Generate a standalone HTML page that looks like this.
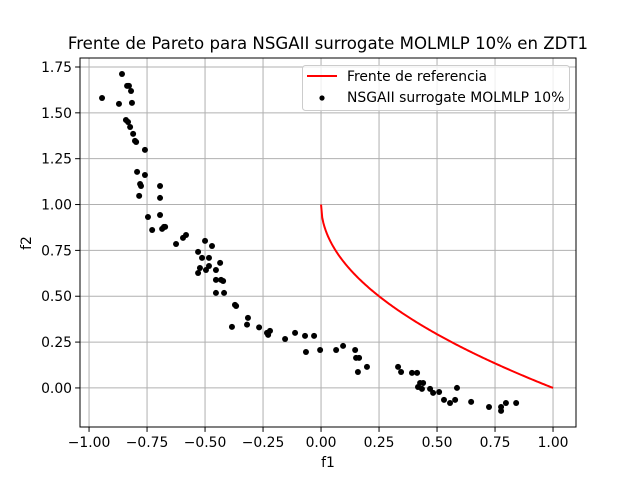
<!DOCTYPE html>
<html><head><meta charset="utf-8"><style>
body{margin:0;background:#fff;font-family:"DejaVu Sans","Liberation Sans",sans-serif;}
svg text{font-family:"DejaVu Sans","Liberation Sans",sans-serif;}
</style></head><body>
<svg id="chart" width="640" height="480" xmlns="http://www.w3.org/2000/svg"></svg>
<script>
const xTicks=[-1.00,-0.75,-0.50,-0.25,0.00,0.25,0.50,0.75,1.00];
const xTickLabels=["−1.00","−0.75","−0.50","−0.25","0.00","0.25","0.50","0.75","1.00"];
const yTicks=[0.00,0.25,0.50,0.75,1.00,1.25,1.50,1.75];
const yTickLabels=["0.00","0.25","0.50","0.75","1.00","1.25","1.50","1.75"];
const f1Values=[-0.858,-0.828,-0.836,-0.819,-0.944,-0.871,-0.815,-0.841,-0.832,-0.823,-0.810,-0.802,-0.797,-0.759,-0.793,-0.759,-0.780,-0.776,-0.694,-0.784,-0.694,-0.746,-0.694,-0.672,-0.677,-0.728,-0.685,-0.582,-0.595,-0.625,-0.500,-0.470,-0.530,-0.513,-0.483,-0.522,-0.483,-0.530,-0.453,-0.496,-0.435,-0.422,-0.431,-0.453,-0.453,-0.418,-0.384,-0.366,-0.371,-0.315,-0.319,-0.267,-0.233,-0.220,-0.228,-0.155,-0.112,-0.069,-0.030,-0.065,-0.004,0.065,0.095,0.147,0.151,0.164,0.198,0.159,0.332,0.345,0.392,0.414,0.427,0.440,0.418,0.435,0.470,0.483,0.509,0.586,0.530,0.556,0.578,0.647,0.724,0.776,0.776,0.797,0.841];
const f2Values=[1.712,1.647,1.647,1.619,1.581,1.549,1.554,1.461,1.450,1.423,1.385,1.347,1.341,1.298,1.178,1.161,1.112,1.101,1.101,1.047,1.036,0.932,0.943,0.878,0.878,0.861,0.867,0.834,0.818,0.785,0.802,0.774,0.742,0.709,0.709,0.654,0.665,0.627,0.643,0.643,0.682,0.583,0.589,0.589,0.518,0.518,0.333,0.447,0.453,0.382,0.345,0.330,0.300,0.311,0.289,0.267,0.300,0.284,0.284,0.196,0.207,0.207,0.229,0.207,0.164,0.164,0.115,0.087,0.115,0.087,0.082,0.082,0.027,0.027,0.005,-0.005,-0.005,-0.027,-0.022,0.000,-0.065,-0.082,-0.065,-0.076,-0.104,-0.104,-0.125,-0.082,-0.082];
const refF1=[];for(let i=0;i<=200;i++)refF1.push(i/200);

const L=80,R=576,T=58,B=427;
const xMin=-1.039,xMax=1.099,yMin=-0.213,yMax=1.799;
const sx=v=>L+(v-xMin)/(xMax-xMin)*(R-L);
const sy=v=>B-(v-yMin)/(yMax-yMin)*(B-T);
const svg=document.getElementById('chart');
const NS='http://www.w3.org/2000/svg';
function mk(tag,attrs,parent){const e=document.createElementNS(NS,tag);for(const k in attrs)e.setAttribute(k,attrs[k]);(parent||svg).appendChild(e);return e;}

xTicks.forEach((v,i)=>{
  const g=mk('line',{x1:sx(v),x2:sx(v),y1:T,y2:B,stroke:'#b0b0b0','stroke-width':1});
  
  
  mk('line',{x1:sx(v),x2:sx(v),y1:B,y2:B+4.9,stroke:'#000','stroke-width':1});
  const t=mk('text',{x:sx(v),y:B+20,'text-anchor':'middle','font-size':13.9,fill:'#000'});
  t.textContent=xTickLabels[i];
  
  
});
yTicks.forEach((v,i)=>{
  const g=mk('line',{x1:L,x2:R,y1:sy(v),y2:sy(v),stroke:'#b0b0b0','stroke-width':1});
  
  
  mk('line',{x1:L-4.9,x2:L,y1:sy(v),y2:sy(v),stroke:'#000','stroke-width':1});
  const t=mk('text',{x:L-8,y:sy(v)+5,'text-anchor':'end','font-size':13.9,fill:'#000'});
  t.textContent=yTickLabels[i];
  
  
});

const pts=refF1.map(f=>sx(f)+','+sy(1-Math.sqrt(f))).join(' ');
const ref=mk('polyline',{points:pts,fill:'none',stroke:'#ff0000','stroke-width':2});



f1Values.forEach((f,i)=>{
  const c=mk('circle',{cx:sx(f),cy:sy(f2Values[i]),r:3,fill:'#000'});
  
  
});

const frame=mk('rect',{x:L,y:T,width:R-L,height:B-T,fill:'none',stroke:'#000','stroke-width':1});



const title=mk('text',{x:328,y:49,'text-anchor':'middle','font-size':16.6,fill:'#000'});
title.textContent='Frente de Pareto para NSGAII surrogate MOLMLP 10% en ZDT1';


const xl=mk('text',{x:328,y:467,'text-anchor':'middle','font-size':13.9,fill:'#000'});
xl.textContent='f1';


const yl=mk('text',{x:31,y:243,'text-anchor':'middle','font-size':13.9,fill:'#000',transform:'rotate(-90 31 243)'});
yl.textContent='f2';



const lg=mk('g',{});


mk('rect',{x:302.5,y:65.5,width:267,height:45,rx:3,fill:'#fff','fill-opacity':0.8,stroke:'#ccc'},lg);
mk('line',{x1:307,x2:337,y1:76,y2:76,stroke:'#ff0000','stroke-width':2},lg);
mk('circle',{cx:322,cy:98,r:2.6,fill:'#000'},lg);
const t1=mk('text',{x:347,y:81,'font-size':13.9,fill:'#000'},lg);
t1.textContent='Frente de referencia';


const t2=mk('text',{x:347,y:102,'font-size':13.9,fill:'#000'},lg);
t2.textContent='NSGAII surrogate MOLMLP 10%';


</script>
</body></html>
